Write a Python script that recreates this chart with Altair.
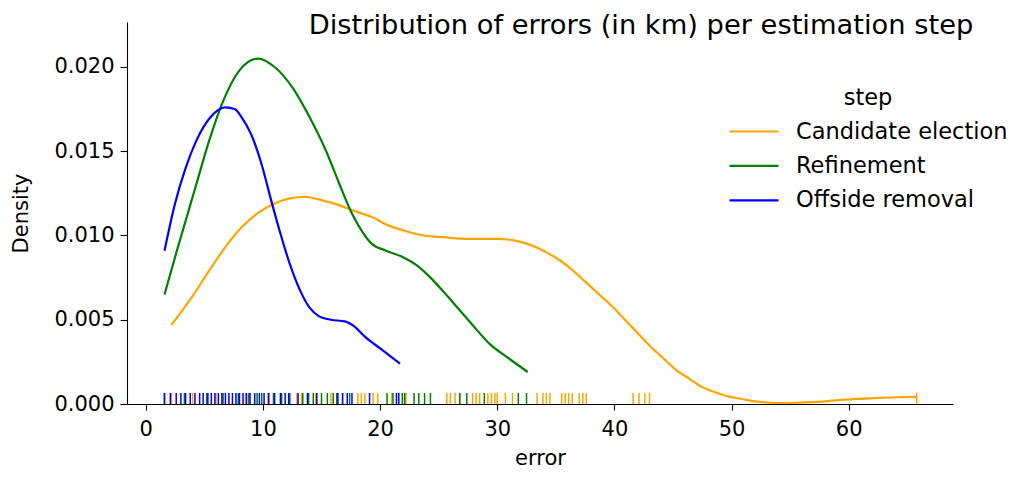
import altair as alt
import pandas as pd

steps = ["Candidate election", "Refinement", "Offside removal"]
colors = ["orange", "green", "blue"]

# KDE curves
cand_x = [2.2, 4.0, 5.4, 7.0, 8.2, 9.5, 11.0, 12.3, 13.5, 15.0, 16.5, 18.0, 19.3, 20.7, 22.0,
          23.7, 25.4, 27.5, 30.0, 31.5, 33.0, 34.2, 35.4, 36.5, 37.6, 38.7, 39.8, 40.9,
          42.0, 43.1, 44.2, 45.3, 46.4, 47.5, 48.6, 49.7, 51.0, 52.0, 54.2, 56.4, 58.0, 59.7,
          62.5, 64.0, 65.8]
cand_y = [0.0047, 0.0064, 0.0079, 0.0095, 0.0105, 0.0113, 0.0119, 0.0122, 0.0123, 0.0121,
          0.0118, 0.0114, 0.0111, 0.0106, 0.0103, 0.0100, 0.0099, 0.0098, 0.0098, 0.0097,
          0.0094, 0.0090, 0.0085, 0.0079, 0.0072, 0.0065, 0.0058, 0.0050, 0.0042,
          0.0034, 0.0027, 0.0020, 0.0015, 0.0010, 0.0007, 0.00045, 0.00028, 0.00016, 0.00006,
          0.0001, 0.00016, 0.00026, 0.00036, 0.0004, 0.00042]

ref_x = [1.6, 2.7, 3.5, 4.3, 5.4, 6.5, 8.0, 9.6, 11.0, 12.6, 14.0, 15.4, 16.5, 17.6, 18.5,
         19.3, 20.5, 22.0, 23.2, 24.3, 25.5, 26.5, 28.0, 29.3, 31.0, 32.6]
ref_y = [0.0065, 0.0092, 0.0111, 0.0130, 0.0156, 0.0178, 0.0198, 0.0205, 0.0200, 0.0187,
         0.0170, 0.0150, 0.0131, 0.0113, 0.0102, 0.0095, 0.0091, 0.0087, 0.0082, 0.0075,
         0.0066, 0.0058, 0.0046, 0.0036, 0.0027, 0.0019]

off_x = [1.6, 2.5, 3.4, 4.3, 5.5, 6.8, 7.6, 8.2, 9.0, 9.9, 10.7, 11.5, 12.3, 13.2, 14.0,
         14.8, 15.8, 17.0, 17.8, 18.7, 20.2, 21.7]
off_y = [0.0091, 0.0119, 0.0140, 0.0156, 0.0170, 0.0176, 0.0175, 0.0170, 0.0160, 0.0142,
         0.0121, 0.0101, 0.0083, 0.0067, 0.0057, 0.0052, 0.0050, 0.0049, 0.0046, 0.0040,
         0.0032, 0.0024]

cand_rug = [2.2, 4.0, 6.0, 8.5, 10.4, 11.5, 12.9, 13.3, 14.5, 15.8, 16.8, 18.1, 18.4, 18.7,
            19.4, 19.8, 21.0, 22.2, 25.7, 26.0, 26.4, 26.8, 27.9, 28.2, 28.5, 29.2, 29.5,
            29.8, 30.0, 30.7, 31.3, 33.4, 33.9, 34.2, 34.5, 35.5, 35.8, 36.1, 36.4, 37.0,
            37.3, 37.6, 41.6, 42.1, 42.6, 43.0, 65.8]
ref_rug = [1.6, 3.3, 5.2, 6.6, 7.9, 8.8, 9.5, 9.9, 10.9, 11.6, 12.3, 13.4, 13.9, 14.3, 15.0,
           15.5, 16.0, 16.3, 17.4, 20.6, 21.1, 21.9, 22.1, 22.9, 23.3, 23.8, 24.3, 26.8,
           27.4, 28.9, 31.8, 32.5]
off_rug = [1.6, 2.1, 2.6, 3.0, 3.4, 3.8, 4.2, 4.6, 4.9, 5.3, 5.6, 5.9, 6.2, 6.5, 6.8, 7.1,
           7.4, 7.7, 8.0, 8.3, 8.6, 8.9, 9.3, 9.7, 10.1, 10.5, 11.0, 11.5, 11.9, 12.2, 13.0,
           13.8, 14.6, 16.4, 16.8, 17.2, 17.6, 19.1, 21.4, 21.6]

x_ticks = [0, 10, 20, 30, 40, 50, 60]
y_ticks = [0.0, 0.005, 0.010, 0.015, 0.020]
title = "Distribution of errors (in km) per estimation step"

curve_rows = []
for name, xs, ys in [(steps[0], cand_x, cand_y), (steps[1], ref_x, ref_y), (steps[2], off_x, off_y)]:
    for xv, yv in zip(xs, ys):
        curve_rows.append({"step": name, "error": xv, "density": yv})
curve_df = pd.DataFrame(curve_rows)

rug_rows = []
for name, vals in [(steps[0], cand_rug), (steps[1], ref_rug), (steps[2], off_rug)]:
    for v in vals:
        rug_rows.append({"step": name, "error": v})
rug_df = pd.DataFrame(rug_rows)

FONT = "DejaVu Sans"

x_enc = alt.X("error:Q",
              scale=alt.Scale(domain=[-1.6, 68.9], nice=False, zero=False),
              axis=alt.Axis(values=x_ticks, title="error", format="d",
                            tickSize=6, labelPadding=8, titlePadding=8))
y_enc = alt.Y("density:Q",
              scale=alt.Scale(domain=[0, 0.02267], nice=False),
              axis=alt.Axis(values=y_ticks, title="Density", format=".3f",
                            tickSize=7, labelPadding=6, titlePadding=22))

legend = alt.Legend(title="step", orient="none", legendX=601, legendY=65,
                    symbolType="stroke", symbolSize=2401, symbolStrokeWidth=2.2,
                    labelFontSize=22.5, titleFontSize=22.5, titleFontWeight="normal",
                    titleAnchor="middle", labelOffset=16, clipHeight=24, rowPadding=10.4,
                    titlePadding=10, labelColor="black", titleColor="black",
                    labelLimit=400, titleLimit=400,
                    labelFont=FONT, titleFont=FONT, padding=0)
color_enc = alt.Color("step:N", scale=alt.Scale(domain=steps, range=colors), legend=legend)

lines = alt.Chart(curve_df).mark_line(strokeWidth=2.2, interpolate="monotone").encode(
    x=x_enc, y=y_enc, color=color_enc, order="error:Q")

rug = alt.Chart(rug_df).mark_rule(strokeWidth=1.5).encode(
    x=alt.X("error:Q"), y=alt.value(371), y2=alt.value(382), color=color_enc)

title_layer = alt.Chart(pd.DataFrame({"t": [title]})).mark_text(
    font=FONT, fontSize=27.3, color="black", align="center", baseline="alphabetic"
).encode(text="t:N", x=alt.value(514), y=alt.value(11.5))

chart = alt.layer(lines, rug, title_layer).properties(
    width=826, height=382,
    autosize=alt.AutoSizeParams(type="none"),
    padding={"left": 119, "top": 14, "right": 58, "bottom": 65},
).configure_view(stroke=None).configure_axis(
    grid=False, labelFont=FONT, titleFont=FONT, labelFontSize=21, titleFontSize=21,
    titleFontWeight="normal", labelColor="black", titleColor="black",
    domainColor="black", tickColor="black", tickWidth=1.1, domainWidth=1.1,
)

chart.save("out.html", embed_options={"renderer": "svg", "actions": False})
